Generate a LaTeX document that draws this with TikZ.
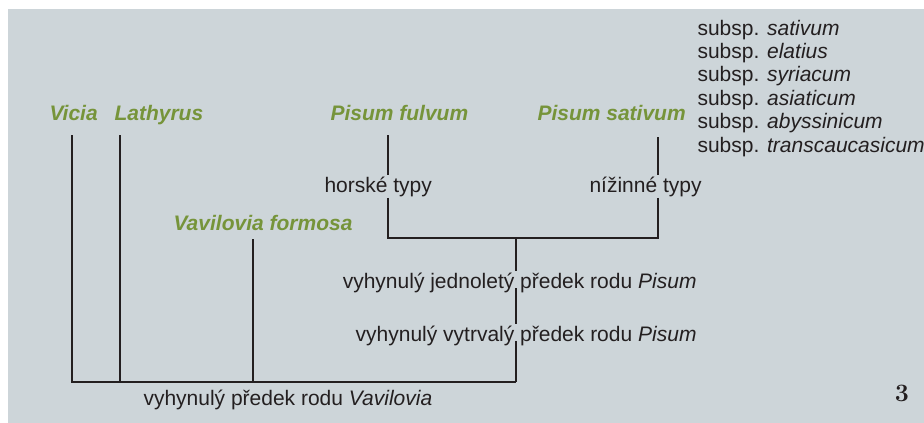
\documentclass[tikz,border=0pt]{standalone}
\usepackage{fontspec}
\setsansfont{Liberation Sans}
\usetikzlibrary{calc}
\definecolor{pea-bg}{HTML}{CDD5D9}
\definecolor{pea-green}{HTML}{76943A}
\definecolor{pea-ink}{HTML}{231F20}

\begin{document}
\begin{tikzpicture}[x=1pt, y=-1pt, line width=1.1pt, draw=pea-ink,
    taxon/.style={font=\sffamily\bfseries\itshape\fontsize{21}{23.4}\selectfont, text=pea-green, inner sep=0pt, outer sep=1.5pt},
    note/.style={font=\sffamily\fontsize{21}{23.4}\selectfont, text=pea-ink, inner sep=0pt, outer sep=1.5pt}]
    % page and grey panel
    \fill[white] (0,0) rectangle (924,423);
    \fill[pea-bg] (8,9) rectangle (924,423);
    \useasboundingbox (0,0) rectangle (924,423);

    % taxa
    \node[taxon, anchor=base west] (vicia) at (48,120) {Vicia};
    \node[taxon, anchor=base west] (lathyrus) at (113,120) {Lathyrus};
    \node[taxon, anchor=base west] (fulvum) at (329,120) {Pisum fulvum};
    \node[taxon, anchor=base west] (sativum) at (536,120) {Pisum sativum};
    \node[taxon, anchor=base west] (formosa) at (172,230) {Vavilovia formosa};

    % subspecies of P. sativum
    \foreach \sub [count=\i] in {sativum,elatius,syriacum,asiaticum,abyssinicum,transcaucasicum}
        \node[note, anchor=base west] (subsp\i) at (696,{35+23.4*(\i-1)}) {subsp. \textit{\sub}};

    % branch labels
    \node[note, anchor=base west] (horske) at (323,192) {horské typy};
    \node[note, anchor=base west] (nizinne) at (588,192) {nížinné typy};
    \node[note, anchor=base east] (jednolety) at (698,288) {vyhynulý jednoletý předek rodu \textit{Pisum}};
    \node[note, anchor=base east] (vytrvaly) at (698,341) {vyhynulý vytrvalý předek rodu \textit{Pisum}};
    \node[note, anchor=base west] (vavpredek) at (142,405) {vyhynulý předek rodu \textit{Vavilovia}};
    \node[font=\rmfamily\bfseries\fontsize{25}{27}\selectfont, text=pea-ink, inner sep=0pt, anchor=base] (pagenum) at (902,401) {3};

    % tips and forks
    \coordinate (vicia-tip) at (72,135);
    \coordinate (lathyrus-tip) at (120,135);
    \coordinate (fulvum-tip) at (388,135);
    \coordinate (sativum-tip) at (658,137);
    \coordinate (formosa-tip) at (253,239);
    \coordinate (pisum) at (516,238);
    \coordinate (root) at (516,382);

    \draw (vicia-tip) |- (root);
    \draw (lathyrus-tip) -- (lathyrus-tip |- root);
    \draw (formosa-tip) -- (formosa-tip |- root);
    \draw (fulvum-tip) -- (fulvum-tip |- horske.north);
    \draw (fulvum-tip |- horske.south) |- (pisum);
    \draw (sativum-tip) -- (sativum-tip |- nizinne.north);
    \draw (sativum-tip |- nizinne.south) |- (pisum);
    \draw (pisum) -- (pisum |- jednolety.north);
    \draw (pisum |- jednolety.base) -- (pisum |- vytrvaly.north);
    \draw (pisum |- vytrvaly.base) -- (root);
\end{tikzpicture}
\end{document}
